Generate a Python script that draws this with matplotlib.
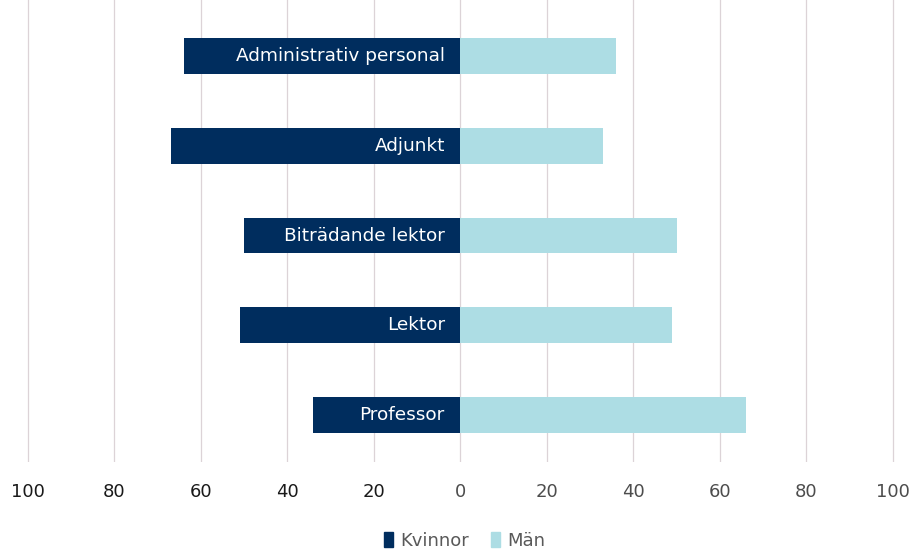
import matplotlib
matplotlib.use("Agg")
import matplotlib.pyplot as plt
from matplotlib.patches import Patch

# ─── data (percent) ─────────────────────────────────────────────
categories = ["Administrativ personal", "Adjunkt", "Biträdande lektor",
              "Lektor", "Professor"]
kvinnor = [64, 67, 50, 51, 34]
man     = [36, 33, 50, 49, 66]
ticks   = [-100, -80, -60, -40, -20, 0, 20, 40, 60, 80, 100]

NAVY  = "#002d5e"
LIGHT = "#addde4"

plt.rcParams["font.family"] = ["DejaVu Sans"]

fig = plt.figure(figsize=(9.15, 5.52), dpi=100)
ax = fig.add_axes([0.0287, 0.163, 0.949, 0.837])

y = list(range(len(categories)))
ax.barh(y, [-v for v in kvinnor], height=0.4, color=NAVY, zorder=3)
ax.barh(y, man, height=0.4, color=LIGHT, zorder=3)

for yi, name in zip(y, categories):
    ax.text(-3.6, yi, name, color="white", fontsize=13.3,
            ha="right", va="center", zorder=4)

ax.set_xlim(-100.4, 100.4)
ax.set_ylim(4.52, -0.62)
ax.set_xticks(ticks)
ax.set_xticklabels([str(abs(t)) for t in ticks], fontsize=13)
for lab, t in zip(ax.get_xticklabels(), ticks):
    lab.set_color("#1a1a1a" if t < 0 else "#4d4d4d")
ax.tick_params(axis="x", length=0, pad=15)
ax.set_yticks([])
ax.grid(axis="x", color="#dcd3d7", linewidth=0.9, zorder=0)
for s in ax.spines.values():
    s.set_visible(False)

handles = [Patch(color=NAVY, label="Kvinnor"), Patch(color=LIGHT, label="Män")]
fig.legend(handles=handles, loc="lower center", bbox_to_anchor=(0.508, -0.025),
           ncol=2, frameon=False, fontsize=13, handlelength=0.5,
           handleheight=0.9, handletextpad=0.4, columnspacing=1.2,
           labelcolor="#595959")

fig.savefig("out.png", dpi=100)
